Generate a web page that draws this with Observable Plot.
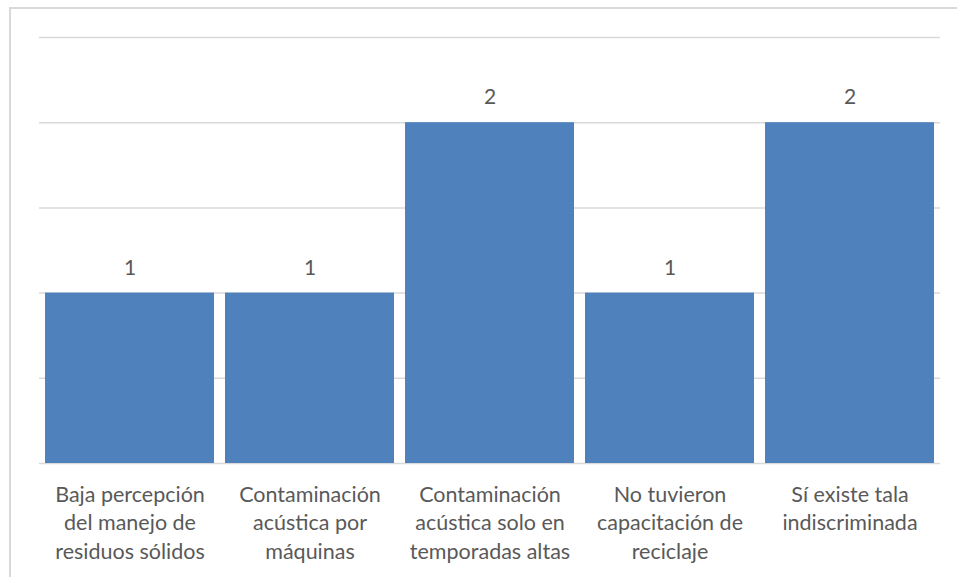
<!DOCTYPE html>
<html>
<head>
<meta charset="utf-8">
<script src="https://cdn.jsdelivr.net/npm/d3@7"></script>
<script src="https://cdn.jsdelivr.net/npm/@observablehq/plot@0.6"></script>
<style>
  html, body { margin: 0; padding: 0; background: #fff; overflow: hidden; }
  #wrap { position: relative; width: 957px; height: 577px; }
  #border { position: absolute; left: 9px; top: 7px; width: 960px; height: 590px; border: 2px solid #d9d9d9; box-sizing: border-box; }
  #chart { position: absolute; left: 0; top: 0; }
</style>
</head>
<body>
<div id="wrap"><div id="border"></div><div id="chart"></div></div>
<script>
const categories = [
  "Baja percepción\ndel manejo de\nresiduos sólidos",
  "Contaminación\nacústica por\nmáquinas",
  "Contaminación\nacústica solo en\ntemporadas altas",
  "No tuvieron\ncapacitación de\nreciclaje",
  "Sí existe tala\nindiscriminada"
];
const values = [1, 1, 2, 1, 2];
const yTicks = [0, 0.5, 1, 1.5, 2, 2.5];

const data = categories.map((c, i) => ({category: c, value: values[i]}));
const font = "Lato, 'Liberation Sans', sans-serif";

const chart = Plot.plot({
  width: 957,
  height: 577,
  marginLeft: 39,
  marginRight: 17,
  marginTop: 37,
  marginBottom: 114,
  style: {fontFamily: font, background: "transparent"},
  x: {domain: categories, paddingInner: 0.06, paddingOuter: 0.03, axis: null},
  y: {domain: [0, 2.5], axis: null},
  marks: [
    Plot.ruleY(yTicks, {stroke: "#d9d9d9", strokeWidth: 1.5, strokeOpacity: 1}),
    Plot.barY(data, {x: "category", y: "value", fill: "#4f81bd"}),
    Plot.text(data, {x: "category", y: "value", text: d => String(d.value), dy: -25, fontSize: 21, fill: "#595959"}),
    Plot.text(data, {x: "category", y: () => 0, text: "category", lineAnchor: "top", dy: 18, fontSize: 21.5, lineHeight: 1.33, fill: "#595959"})
  ]
});
document.getElementById("chart").appendChild(chart);
</script>
</body>
</html>
